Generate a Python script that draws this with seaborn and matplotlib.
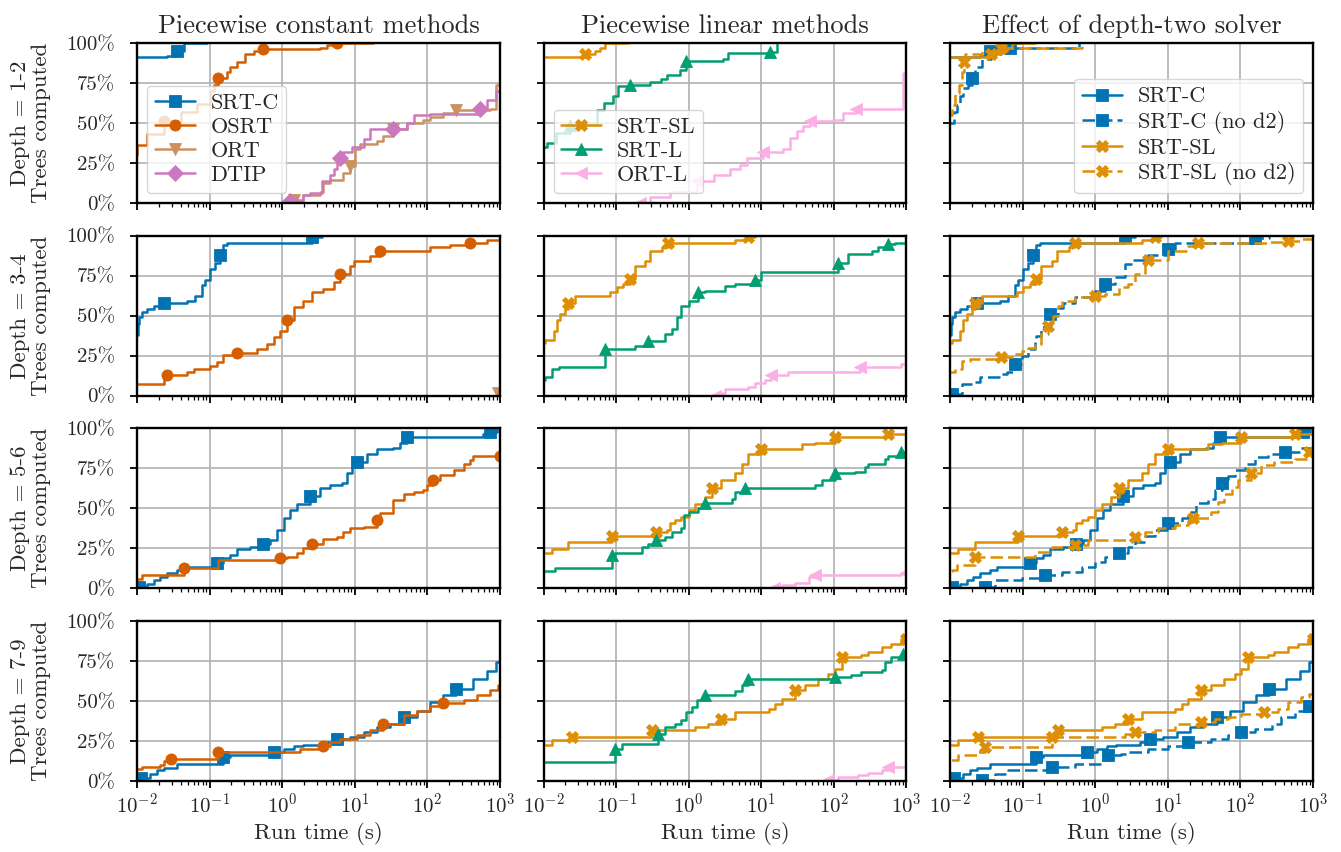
import numpy as np
import matplotlib
matplotlib.use("Agg")
import matplotlib.pyplot as plt
import seaborn as sns
from matplotlib.ticker import PercentFormatter, LogLocator, NullFormatter

# ---------------- data (run time in s, % of trees computed) ----------------
# Depth 1-2
d12_srtc_t = [0.004, 0.026, 0.036, 0.045, 0.092]
d12_srtc_p = [91, 92, 95, 100, 100]
d12_osrt_t = [0.005, 0.01, 0.0138, 0.0234, 0.04, 0.068, 0.1, 0.115, 0.132, 0.174, 0.19, 0.24, 0.31, 0.41, 0.55, 3.3, 4.1, 5.6, 18]
d12_osrt_p = [30, 36, 43, 51, 57, 62, 70, 74, 78, 82, 85, 88, 93, 95, 96, 97, 98.5, 100, 100]
d12_ort_t = [1.43, 1.95, 3.3, 3.7, 4.6, 6.9, 8.7, 10, 11.7, 20, 24.5, 34, 52, 87, 110, 166, 250, 720, 890, 1000]
d12_ort_p = [2, 5, 7, 12.5, 14.6, 19, 23, 34, 37, 38.5, 42, 46, 50, 52, 53.5, 56, 58, 59, 74, 74]
d12_dtip_t = [1.3, 1.95, 2.4, 3.5, 4.6, 5.1, 5.6, 6.3, 6.9, 9.1, 13.2, 16.2, 34, 52, 65, 110, 525, 660, 890, 1000]
d12_dtip_p = [1, 5, 6, 13.5, 17.7, 21, 26, 28, 32, 35, 40, 46, 46.5, 50, 55, 55.5, 59, 64.5, 70, 70]
d12_srtsl_t = [0.004, 0.037, 0.051, 0.06, 0.071, 0.148]
d12_srtsl_p = [91, 93, 95, 97, 100, 100]
d12_srtl_t = [0.005, 0.0112, 0.015, 0.0234, 0.054, 0.068, 0.091, 0.107, 0.155, 0.295, 0.41, 0.5, 0.76, 0.93, 3.0, 3.5, 13.2, 16.2]
d12_srtl_p = [35, 37.5, 44, 49, 58, 62.5, 67, 73, 74, 75.6, 77.7, 80, 83, 89, 90, 94, 94.5, 100]
d12_ortl_t = [0.21, 0.295, 0.55, 1.3, 2.2, 3.7, 5.1, 6.3, 10.7, 20, 24.5, 31, 38, 47, 98, 135, 204, 890, 1000]
d12_ortl_p = [0, 4, 7, 13.5, 17.7, 21, 24, 28, 32, 34, 40.6, 45, 48, 51, 52, 56, 59, 81, 81]
d12_srtc_nod2_t = [0.005, 0.0112, 0.0123, 0.0138, 0.0151, 0.0178, 0.02, 0.022, 0.0275, 0.037, 0.051, 0.068, 0.6]
d12_srtc_nod2_p = [50, 57, 61, 67, 72, 74, 78, 85, 90, 93, 96, 97, 100]
d12_srtsl_nod2_t = [0.005, 0.0105, 0.0118, 0.0135, 0.0148, 0.0155, 0.016, 0.028, 0.05, 0.65]
d12_srtsl_nod2_p = [55, 61, 69, 74, 82, 88, 93, 95, 97, 100]

# Depth 3-4
d34_srtc_t = [0.006, 0.0102, 0.0105, 0.0117, 0.0138, 0.017, 0.0234, 0.049, 0.063, 0.078, 0.087, 0.102, 0.12, 0.141, 0.155, 0.174, 2.57, 3.5]
d34_srtc_p = [38, 45, 49, 52, 54, 56, 58, 59, 62.5, 69, 72, 79, 83, 88, 94, 95.6, 99, 100]
d34_osrt_t = [0.004, 0.0234, 0.0257, 0.049, 0.06, 0.102, 0.126, 0.155, 0.24, 0.45, 0.62, 0.76, 0.93, 1.15, 1.45, 1.95, 2.57, 3.7, 5.1, 6.3, 8.7, 9.8, 16.2, 22.4, 110, 204, 390, 660, 1000]
d34_osrt_p = [7.3, 12, 13, 15, 16.7, 18.8, 21, 25.6, 27, 29, 32, 36.5, 40.6, 47, 55.6, 59, 64.6, 66.7, 71, 76, 81, 84, 87.5, 90.6, 92.7, 94.4, 95.4, 97, 97]
d34_ort_t = [950, 1000]
d34_ort_p = [1.5, 1.5]
d34_srtsl_t = [0.005, 0.0105, 0.0138, 0.0151, 0.017, 0.02, 0.022, 0.0275, 0.083, 0.102, 0.126, 0.155, 0.182, 0.25, 0.295, 0.43, 0.52, 4.4, 6.6, 8.1]
d34_srtsl_p = [33, 35, 40.6, 47, 51, 54, 58, 62.5, 65, 68, 70, 73, 81, 84, 90.6, 92.7, 95.4, 97.5, 99, 100]
d34_srtl_t = [0.005, 0.0105, 0.0129, 0.0162, 0.071, 0.182, 0.275, 0.47, 0.59, 0.68, 0.79, 1.0, 1.35, 1.66, 3.2, 4.4, 8.1, 10, 115, 158, 330, 410, 560, 690, 1000]
d34_srtl_p = [10, 11.5, 16.7, 18, 29, 31, 34, 38.5, 41.7, 49, 56, 59, 64.6, 65.6, 68.8, 70, 72, 77, 83, 88.5, 90.6, 92.7, 95, 95.4, 95.4]
d34_ortl_t = [2.3, 2.8, 3.2, 6.6, 8.1, 11.2, 13.8, 23.4, 229, 850, 1000]
d34_ortl_p = [0, 2, 4, 5.6, 8, 10, 13, 14.6, 17.7, 19.8, 19.8]
d34_srtc_nod2_t = [0.0105, 0.0145, 0.02, 0.0257, 0.047, 0.06, 0.078, 0.098, 0.12, 0.148, 0.155, 0.182, 0.24, 0.31, 0.36, 0.52, 0.89, 1.35, 1.86, 2.57, 3.2, 5.4, 10, 12.6, 160, 250]
d34_srtc_nod2_p = [1, 7.3, 8.3, 11.5, 13.5, 14.6, 20, 25, 29, 34, 37.5, 42.7, 51, 55, 58, 61.5, 65.6, 70, 74, 82, 85, 88, 91.7, 95.2, 98.5, 100]
d34_srtsl_nod2_t = [0.005, 0.0117, 0.0145, 0.019, 0.051, 0.071, 0.098, 0.12, 0.148, 0.182, 0.224, 0.26, 0.31, 0.35, 0.52, 1.0, 1.35, 2.1, 2.8, 3.5, 4.8, 5.4, 10, 19, 26, 240, 457, 690, 1000]
d34_srtsl_nod2_p = [14.6, 16.7, 22, 23, 24, 26, 28, 30, 32, 38.5, 43.7, 50, 56, 59, 61.5, 62.5, 63.5, 67.7, 70, 76, 82, 85, 90.6, 93.7, 95.2, 95.8, 96.9, 97.9, 97.9]

# Depth 5-6
d56_srtc_t = [0.0105, 0.0138, 0.017, 0.021, 0.0257, 0.0355, 0.0437, 0.126, 0.155, 0.19, 0.24, 0.36, 0.55, 0.68, 0.85, 1.05, 1.29, 1.58, 2.45, 3.3, 4.6, 6.6, 7.8, 9.1, 10.7, 14.8, 20, 34, 42, 52, 590, 720, 900]
d56_srtc_p = [1, 3, 5, 7.3, 9.4, 11.5, 13.5, 15.6, 18.8, 21, 24.4, 25.6, 28, 30, 36.5, 43.7, 49, 53, 58, 62.5, 64.6, 66, 72, 76, 79, 84, 87, 87.5, 90.6, 94.8, 96.5, 98, 100]
d56_osrt_t = [0.006, 0.0117, 0.0437, 0.132, 0.93, 1.15, 1.58, 1.95, 2.57, 3.7, 5.6, 6.9, 8.7, 13.2, 20, 22.4, 34, 47, 65, 87, 98, 120, 148, 229, 316, 390, 427, 1000]
d56_osrt_p = [5.6, 8.3, 13, 17.7, 18.8, 19.8, 22, 25, 28, 31, 32, 35.4, 37.5, 38.5, 42.7, 47, 55, 59, 60, 61.5, 64.6, 67.7, 71, 74, 78, 80, 82.5, 82.5]
d56_srtsl_t = [0.006, 0.0129, 0.022, 0.087, 0.35, 0.5, 0.55, 0.65, 0.79, 1.0, 1.23, 1.66, 2.1, 2.8, 4.4, 5.4, 6.6, 10, 36, 55, 102, 560, 1000]
d56_srtsl_p = [22, 24.4, 29, 33, 35.4, 36.5, 40.6, 42.7, 44.8, 49, 53, 57, 62.5, 67.7, 72, 78, 84, 87, 90, 91, 94.8, 96.3, 96.3]
d56_srtl_t = [0.006, 0.0145, 0.087, 0.098, 0.224, 0.275, 0.35, 0.47, 0.59, 0.79, 0.85, 1.0, 1.35, 1.66, 3.9, 4.4, 6.0, 55, 68, 102, 195, 270, 295, 500, 560, 850, 1000]
d56_srtl_p = [10.8, 12.5, 20.8, 22, 25.6, 28, 30, 32, 35, 37.5, 45.8, 48, 50, 53.5, 56, 60.4, 63, 64.6, 67.7, 72, 73, 76, 78, 80.6, 83, 85.4, 85.4]
d56_ortl_t = [14.8, 19, 29, 45, 55, 850, 1000]
d56_ortl_p = [0, 2, 3.5, 7.3, 8.3, 9.4, 9.4]
d56_srtc_nod2_t = [0.03, 0.042, 0.098, 0.204, 0.35, 0.65, 1.0, 1.35, 2.1, 2.8, 3.5, 4.8, 6.6, 10, 15.5, 19, 24.5, 35.5, 45, 55, 68, 83, 115, 158, 240, 410, 690, 1000]
d56_srtc_nod2_p = [1, 5.2, 6.3, 8.3, 10.4, 13.5, 16.7, 19.8, 22, 26, 29, 33, 36.5, 40.6, 43.7, 48, 53.5, 56, 61.5, 65.6, 70, 74, 78, 82, 84, 85, 87.5, 87.5]
d56_srtsl_nod2_t = [0.006, 0.0105, 0.0123, 0.022, 0.148, 0.25, 0.52, 0.79, 3.5, 4.8, 7.4, 12.6, 19, 22.4, 40, 49, 60, 76, 93, 141, 195, 295, 560, 890, 1000]
d56_srtsl_nod2_p = [11, 11.5, 14.6, 19.8, 23, 26, 27, 30, 32, 35.4, 37.5, 39.6, 41.7, 43.7, 48, 54, 59, 63.5, 67.7, 72, 77, 79, 81, 85, 87]

# Depth 7-9
d79_srtc_t = [0.0112, 0.015, 0.019, 0.0234, 0.0355, 0.155, 0.19, 0.76, 1.05, 1.45, 1.95, 4.1, 5.6, 8.7, 13.2, 20, 31, 47, 71, 110, 166, 250, 427, 660, 890, 1000]
d79_srtc_p = [2, 4.6, 6.7, 8.3, 10.8, 15, 16, 18, 20, 22, 22.7, 24.4, 26.5, 27.5, 30.6, 33.7, 35.8, 40, 44, 49.4, 53.5, 57.7, 64, 69, 74.4, 74.4]
d79_osrt_t = [0.006, 0.0117, 0.021, 0.0234, 0.029, 0.132, 1.78, 3.7, 4.6, 6.3, 10.7, 16.2, 24.5, 47, 71, 110, 166, 316, 480, 720, 950, 1000]
d79_osrt_p = [7.7, 8.75, 9.8, 12.5, 13.5, 18, 20, 22, 24.4, 26.5, 28.5, 31.7, 35.8, 41, 44, 47, 48.8, 50.8, 53.5, 56.7, 59.8, 59.8]
d79_srtsl_t = [0.006, 0.0129, 0.0245, 0.31, 1.23, 1.86, 2.8, 4.4, 12.6, 15.5, 19, 29, 40, 60, 83, 102, 129, 240, 295, 457, 617, 850, 1000]
d79_srtsl_p = [22.7, 25.4, 27.5, 32, 33.7, 35.8, 39, 43, 45, 48, 51.5, 56.7, 59.8, 64, 67, 70, 77.5, 78.5, 80.6, 83.7, 85.8, 89, 89]
d79_srtl_t = [0.006, 0.098, 0.12, 0.38, 0.47, 0.65, 0.79, 0.93, 1.1, 1.29, 1.66, 4.4, 5.4, 6.6, 102, 174, 240, 457, 500, 617, 890, 1000]
d79_srtl_p = [11.9, 20, 23, 29.6, 33.7, 35.8, 38, 43, 46, 50.8, 54, 56, 59.8, 64, 65, 66, 68, 69.6, 74.4, 77.5, 79.6, 79.6]
d79_ortl_t = [83, 115, 214, 295, 457, 560, 1000]
d79_ortl_p = [0.5, 2.5, 3.5, 5, 6.7, 8.75, 8.75]
d79_srtc_nod2_t = [0.0275, 0.042, 0.058, 0.25, 0.52, 1.23, 1.5, 2.3, 2.8, 5.4, 10, 19, 40, 68, 102, 158, 270, 363, 560, 890, 1000]
d79_srtc_nod2_p = [0.4, 4.6, 6.7, 8.75, 10.8, 13, 16, 17, 18, 20, 22, 24.4, 26.5, 28.5, 30.6, 32.7, 35.8, 40, 44, 47, 47]
d79_srtsl_nod2_t = [0.006, 0.0129, 0.0245, 0.03, 0.25, 2.57, 3.5, 6.6, 12.6, 29, 45, 68, 102, 214, 330, 457, 690, 890, 1000]
d79_srtsl_nod2_p = [13, 16, 18, 21, 27.5, 29.6, 30.6, 31.7, 35.8, 37, 39, 40, 42, 43, 45, 49.4, 52.5, 54.6, 54.6]

depth_labels = ["1-2", "3-4", "5-6", "7-9"]
col_titles = ["Piecewise constant methods", "Piecewise linear methods", "Effect of depth-two solver"]
x_label = "Run time (s)"

# ---------------- style ----------------
pal = sns.color_palette("colorblind")
STYLE = {
    "SRT-C": (pal[0], "s"),
    "OSRT": (pal[3], "o"),
    "ORT": (pal[5], "v"),
    "DTIP": (pal[4], "D"),
    "SRT-SL": (pal[1], "X"),
    "SRT-L": (pal[2], "^"),
    "ORT-L": (pal[6], "<"),
}

sns.set_theme(style="whitegrid")
plt.rcParams.update({
    "font.family": "serif",
    "font.serif": ["cmr10"],
    "mathtext.fontset": "cm",
    "axes.formatter.use_mathtext": True,
    "axes.unicode_minus": False,
    "font.size": 15,
    "axes.titlesize": 19,
    "axes.labelsize": 16.5,
    "xtick.labelsize": 15,
    "ytick.labelsize": 15,
    "legend.fontsize": 16,
})

panels = [
    # depth 1-2
    [[("SRT-C", d12_srtc_t, d12_srtc_p, False), ("OSRT", d12_osrt_t, d12_osrt_p, False),
      ("ORT", d12_ort_t, d12_ort_p, False), ("DTIP", d12_dtip_t, d12_dtip_p, False)],
     [("SRT-SL", d12_srtsl_t, d12_srtsl_p, False), ("SRT-L", d12_srtl_t, d12_srtl_p, False),
      ("ORT-L", d12_ortl_t, d12_ortl_p, False)],
     [("SRT-C", d12_srtc_t, d12_srtc_p, False), ("SRT-C", d12_srtc_nod2_t, d12_srtc_nod2_p, True),
      ("SRT-SL", d12_srtsl_t, d12_srtsl_p, False), ("SRT-SL", d12_srtsl_nod2_t, d12_srtsl_nod2_p, True)]],
    # depth 3-4
    [[("SRT-C", d34_srtc_t, d34_srtc_p, False), ("OSRT", d34_osrt_t, d34_osrt_p, False),
      ("ORT", d34_ort_t, d34_ort_p, False)],
     [("SRT-SL", d34_srtsl_t, d34_srtsl_p, False), ("SRT-L", d34_srtl_t, d34_srtl_p, False),
      ("ORT-L", d34_ortl_t, d34_ortl_p, False)],
     [("SRT-C", d34_srtc_t, d34_srtc_p, False), ("SRT-C", d34_srtc_nod2_t, d34_srtc_nod2_p, True),
      ("SRT-SL", d34_srtsl_t, d34_srtsl_p, False), ("SRT-SL", d34_srtsl_nod2_t, d34_srtsl_nod2_p, True)]],
    # depth 5-6
    [[("SRT-C", d56_srtc_t, d56_srtc_p, False), ("OSRT", d56_osrt_t, d56_osrt_p, False)],
     [("SRT-SL", d56_srtsl_t, d56_srtsl_p, False), ("SRT-L", d56_srtl_t, d56_srtl_p, False),
      ("ORT-L", d56_ortl_t, d56_ortl_p, False)],
     [("SRT-C", d56_srtc_t, d56_srtc_p, False), ("SRT-C", d56_srtc_nod2_t, d56_srtc_nod2_p, True),
      ("SRT-SL", d56_srtsl_t, d56_srtsl_p, False), ("SRT-SL", d56_srtsl_nod2_t, d56_srtsl_nod2_p, True)]],
    # depth 7-9
    [[("SRT-C", d79_srtc_t, d79_srtc_p, False), ("OSRT", d79_osrt_t, d79_osrt_p, False)],
     [("SRT-SL", d79_srtsl_t, d79_srtsl_p, False), ("SRT-L", d79_srtl_t, d79_srtl_p, False),
      ("ORT-L", d79_ortl_t, d79_ortl_p, False)],
     [("SRT-C", d79_srtc_t, d79_srtc_p, False), ("SRT-C", d79_srtc_nod2_t, d79_srtc_nod2_p, True),
      ("SRT-SL", d79_srtsl_t, d79_srtsl_p, False), ("SRT-SL", d79_srtsl_nod2_t, d79_srtsl_nod2_p, True)]],
]

fig, axes = plt.subplots(4, 3, figsize=(13.41, 8.52), dpi=100, sharex=True, sharey=True)
fig.subplots_adjust(left=0.1022, right=0.9791, top=0.9495, bottom=0.0833, wspace=0.12, hspace=0.204)

for r in range(4):
    for c in range(3):
        ax = axes[r, c]
        handles = []
        for name, t, p, dashed in panels[r][c]:
            color, mk = STYLE[name]
            n_before = len(ax.lines)
            sns.lineplot(x=t, y=p, ax=ax, color=color, marker=mk,
                         markersize=9 if mk == "X" else 8,
                         markeredgecolor=color, markeredgewidth=0.6,
                         markevery=0.17, drawstyle="steps-post", linewidth=1.8,
                         linestyle=(0, (5, 2)) if dashed else "-",
                         estimator=None, sort=False, legend=False)
            line = ax.lines[n_before]
            line.set_label(name + (" (no d2)" if dashed else ""))
            handles.append(line)
        ax.set_xscale("log")
        ax.set_xlim(1e-2, 1e3)
        ax.set_ylim(0, 100)
        ax.set_yticks([0, 25, 50, 75, 100])
        ax.yaxis.set_major_formatter(PercentFormatter(100, decimals=0))
        ax.xaxis.set_major_locator(LogLocator(base=10, numticks=10))
        ax.xaxis.set_minor_locator(LogLocator(base=10, subs=np.arange(2, 10), numticks=30))
        ax.xaxis.set_minor_formatter(NullFormatter())
        ax.grid(True, which="major", color="#b0b0b0", linewidth=1.2)
        ax.grid(False, which="minor")
        ax.tick_params(axis="x", which="major", direction="out", length=5, width=1.3,
                       color="black", bottom=True, pad=3)
        ax.tick_params(axis="y", which="major", direction="out", length=5, width=1.3,
                       color="black", left=True, pad=11)
        ax.tick_params(axis="x", which="minor", direction="out", length=3, width=0.9,
                       color="black", bottom=True)
        for s in ax.spines.values():
            s.set_visible(True)
            s.set_color("black")
            s.set_linewidth(1.7)
        ax.set_xlabel(x_label if r == 3 else "")
        ax.set_ylabel(f"Depth = {depth_labels[r]}\nTrees computed" if c == 0 else "",
                      linespacing=1.1, labelpad=11)
        if r == 0:
            ax.set_title(col_titles[c], pad=7)
            loc = "lower right" if c == 2 else "lower left"
            ax.legend(handles=handles, loc=loc, framealpha=0.8, edgecolor="0.8",
                      fancybox=True, labelspacing=0.2, handlelength=1.8,
                      handletextpad=0.7, borderpad=0.35, borderaxespad=0.45)

fig.savefig("out.png", dpi=100)
